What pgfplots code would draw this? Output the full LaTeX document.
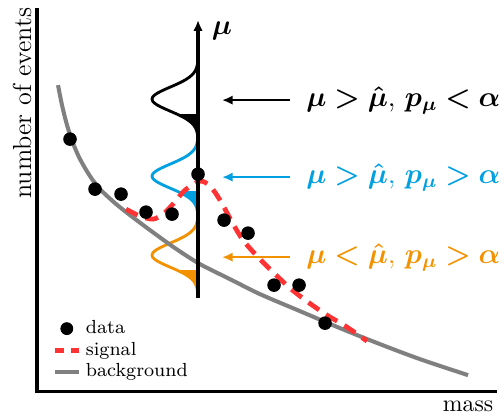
\documentclass[border=0pt]{standalone}
\usepackage{bm}
\usepackage{pgfplots}
\pgfplotsset{compat=1.18}
\usepackage{pgfplotstable}
\usetikzlibrary{arrows.meta}
\tikzset{>={Latex[length=4.5pt,width=4pt]}}

\definecolor{sigred}{RGB}{255,51,51}
\definecolor{bkggray}{RGB}{128,128,128}
\definecolor{cblue}{RGB}{0,160,225}
\definecolor{corange}{RGB}{242,146,0}

% short legend samples
\pgfplotsset{legend image code/.code={\draw[mark repeat=2,mark phase=2,#1] plot coordinates {(0cm,0cm) (0.178cm,0cm) (0.356cm,0cm)};}}

% Gaussian profile: offset to the left of the mu axis vs. distance from its centre
\pgfplotstableread{
dy off
-40 0
-38 0.3
-36 0.5
-34 0.8
-32 1.3
-30 2.0
-28 3.0
-26 4.4
-24 6.2
-22 8.6
-20 11.5
-18 14.9
-16 18.9
-14 23.3
-12 27.9
-10 32.5
-8 36.8
-6 40.6
-4 43.5
-2 45.4
0 46.0
2 45.4
4 43.5
6 40.6
8 36.8
10 32.5
12 27.9
14 23.3
16 18.9
18 14.9
20 11.5
22 8.6
24 6.2
26 4.4
28 3.0
30 2.0
32 1.3
34 0.8
36 0.5
38 0.3
40 0
}\tblgauss

% upper tail (p-value region) of the same profile
\pgfplotstableread{
dy off
15 21.0
16 18.9
18 14.9
20 11.5
22 8.6
24 6.2
26 4.4
28 3.0
30 2.0
32 1.3
34 0.8
36 0.5
38 0.3
40 0
15 0
}\tbltail

% background shape
\pgfplotstableread{
x y
58 85
62 105
67 125
73 143
80 159
90 176
100 189
115 203
130 215
150 230
175 248
200 264
230 279
260 294
300 311
340 328
380 344
420 359
468 375
}\tblbkg

% signal on top of background
\pgfplotstableread{
x y
126 209
140 216
153 219
163 214
172 205
185 190
200 181
210 186
220 200
232 222
243 240
258 257
273 272
290 288
308 302
327 315
347 327
367 341
}\tblsig

% observed events
\pgfplotstableread{
x y
70 139
95 189
121 194
146 212
172 214
198 174
224 220
248 233
274 285
299 285
325 323
}\tblpts

\begin{document}
\begin{tikzpicture}
\path[use as bounding box] (0,0) rectangle (212.6pt,176.4pt);
\begin{axis}[
  x=0.4219pt, y=0.4219pt,
  xmin=0, xmax=504, ymin=0, ymax=418,
  y dir=reverse,
  hide axis, clip=false,
  legend cell align=left,
  legend style={draw=none, fill=none, font=\footnotesize,
    at={(0.089,0.258)}, anchor=north west, row sep=-1.9pt},
]
% frame of the sketch
\addplot[forget plot, line width=1.3pt] coordinates {(37,8) (37,391) (497,391)};

% Gaussian profiles along the mu axis
\addplot[forget plot, fill=black, draw=none] table[x expr=198-\thisrow{off}, y expr=99+\thisrow{dy}] {\tbltail};
\addplot[forget plot, black, line width=1.2pt] table[x expr=198-\thisrow{off}, y expr=99+\thisrow{dy}] {\tblgauss};
\addplot[forget plot, fill=cblue, draw=none] table[x expr=198-\thisrow{off}, y expr=176+\thisrow{dy}] {\tbltail};
\addplot[forget plot, cblue, line width=1.2pt] table[x expr=198-\thisrow{off}, y expr=176+\thisrow{dy}] {\tblgauss};
\addplot[forget plot, fill=corange, draw=none] table[x expr=198-\thisrow{off}, y expr=255+\thisrow{dy}] {\tbltail};
\addplot[forget plot, corange, line width=1.2pt] table[x expr=198-\thisrow{off}, y expr=255+\thisrow{dy}] {\tblgauss};

% background and signal
\addplot[forget plot, bkggray, line width=1.7pt, smooth] table {\tblbkg};
\addplot[forget plot, sigred, line width=2pt, dash pattern=on 5.5pt off 3.5pt, smooth] table {\tblsig};

% mu axis
\addplot[forget plot, line width=1.3pt, ->] coordinates {(198,298) (198,20)};
\node[font=\large] at (axis cs:222,31) {$\bm{\mu}$};

% data points
\addplot[forget plot, only marks, mark=*, mark size=2.65pt, black] table {\tblpts};

% annotations
\addplot[forget plot, black, line width=0.9pt, ->] coordinates {(290,100) (222,100)};
\addplot[forget plot, cblue, line width=0.9pt, ->] coordinates {(290,177) (222,177)};
\addplot[forget plot, corange, line width=0.9pt, ->] coordinates {(290,257) (222,257)};
\node[anchor=west, font=\large, text=black] at (axis cs:298,100) {$\bm{\mu > \hat{\mu}}$, $\bm{p_{\mu} < \alpha}$};
\node[anchor=west, font=\large, text=cblue] at (axis cs:298,177) {$\bm{\mu > \hat{\mu}}$, $\bm{p_{\mu} > \alpha}$};
\node[anchor=west, font=\large, text=corange] at (axis cs:298,257) {$\bm{\mu < \hat{\mu}}$, $\bm{p_{\mu} > \alpha}$};

% axis titles
\node[rotate=90, font=\fontsize{11}{13}\selectfont] at (axis cs:22,103) {number of events};
\node at (axis cs:468,406) {mass};

% legend
\addlegendimage{only marks, mark=*, mark size=2.5pt, black}
\addlegendentry{data}
\addlegendimage{sigred, line width=2pt, dash pattern=on 3.8pt off 3pt}
\addlegendentry{signal}
\addlegendimage{bkggray, line width=1.7pt}
\addlegendentry{background}
\end{axis}
\end{tikzpicture}
\end{document}
